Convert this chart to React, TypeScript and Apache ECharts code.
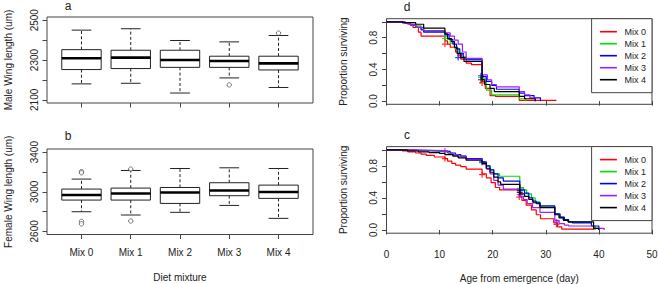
import React, { useEffect, useRef } from "react";
import * as echarts from "echarts";

const FONT = "'Liberation Sans', Arial, Helvetica, sans-serif";
const TXT = "#222";
const FRAME = "#444";

const categories = ["Mix 0", "Mix 1", "Mix 2", "Mix 3", "Mix 4"];

// Box statistics: [lower whisker, Q1, median, Q3, upper whisker]
const maleBox = [
  [2180, 2252, 2309, 2352, 2450],
  [2183, 2257, 2312, 2349, 2457],
  [2134, 2263, 2300, 2349, 2398],
  [2210, 2263, 2295, 2319, 2391],
  [2162, 2250, 2283, 2319, 2423],
];
// [mixture number (1-based), value]
const maleOutliers = [
  [4, 2175],
  [5, 2435],
];
const femaleBox = [
  [2798, 2916, 2967, 3027, 3128],
  [2765, 2916, 2983, 3037, 3215],
  [2792, 2882, 2993, 3043, 3235],
  [2862, 2960, 3013, 3091, 3242],
  [2731, 2933, 2997, 3067, 3235],
];
const femaleOutliers = [
  [1, 3203],
  [1, 3192],
  [1, 2700],
  [1, 2676],
  [2, 3229],
  [2, 2705],
];

const maleTicks = [2100, 2200, 2300, 2400, 2500];
const maleTickLabels = [2100, 2300, 2500];
const femaleTicks = [2600, 2800, 3000, 3200, 3400];
const femaleTickLabels = [2600, 3000, 3400];
const survTicks = [0, 0.2, 0.4, 0.6, 0.8, 1];
const survTickLabels = [0, 0.4, 0.8];
const mixTicks = [1, 2, 3, 4, 5];

const mixColors = ["#FF0000", "#00E000", "#0000FF", "#A020F0", "#000000"];

// Panel d: survival step points [day, proportion surviving]
const survD0 = [[0, 1], [3, 0.99], [4, 0.97], [5, 0.93], [6, 0.87], [6.5, 0.82], [11, 0.76], [11.5, 0.72], [12, 0.68], [13, 0.62], [13.5, 0.57], [14, 0.53], [15, 0.48], [16, 0.46], [18, 0.25], [18.6, 0.16], [19.5, 0.07], [20.5, 0.06], [25, 0.01], [32, 0.01]];
const survD1 = [[0, 1], [3, 0.99], [4.5, 0.97], [5.5, 0.95], [6.5, 0.92], [7, 0.88], [11, 0.82], [11.5, 0.78], [12, 0.73], [12.8, 0.67], [13.5, 0.61], [14.2, 0.56], [15, 0.53], [18, 0.28], [18.8, 0.14], [19.8, 0.08], [25, 0.03], [26.2, 0]];
const survD2 = [[0, 1], [3.5, 0.98], [4.5, 0.96], [5.5, 0.93], [6.5, 0.9], [7, 0.87], [11, 0.84], [11.8, 0.78], [12.5, 0.72], [13.2, 0.66], [13.8, 0.6], [14.5, 0.55], [15, 0.52], [18, 0.31], [18.8, 0.25], [19.8, 0.2], [20.7, 0.15], [25, 0.1], [26, 0.07], [27.8, 0.04], [29, 0]];
const survD3 = [[0, 1], [3.5, 0.98], [4.5, 0.96], [5.5, 0.93], [7, 0.89], [11, 0.86], [12, 0.82], [12.8, 0.77], [13.5, 0.72], [14.3, 0.62], [15, 0.54], [18, 0.33], [19, 0.27], [19.8, 0.21], [20.7, 0.18], [25, 0.12], [26, 0.08], [27, 0.04], [28, 0]];
const survD4 = [[0, 1], [3, 0.99], [5.5, 0.97], [7, 0.92], [11, 0.85], [11.5, 0.79], [12.2, 0.75], [12.8, 0.68], [13.3, 0.6], [14, 0.55], [14.6, 0.5], [18, 0.27], [18.5, 0.21], [19.5, 0.16], [20.3, 0.12], [25, 0.06], [26, 0.03], [28, 0]];
const censorD0 = [[11, 0.72], [18, 0.23]];
const censorD1 = [[11, 0.79], [17.8, 0.3]];
const censorD2 = [[13.5, 0.55], [17.8, 0.32]];
const censorD3 = [[14, 0.58]];
const censorD4 = [[17.8, 0.27]];

// Panel c: survival step points [day, proportion surviving]
const survC0 = [[0, 1], [1.5, 0.995], [3, 0.985], [4, 0.975], [5.5, 0.96], [6.5, 0.945], [7.5, 0.93], [9, 0.91], [11, 0.89], [11.5, 0.86], [12.3, 0.83], [13, 0.81], [14, 0.79], [15, 0.76], [18, 0.7], [18.8, 0.65], [19.7, 0.59], [20.5, 0.53], [21.3, 0.5], [25, 0.42], [25.5, 0.37], [26.3, 0.31], [27.3, 0.25], [28.2, 0.19], [29, 0.14], [31.5, 0.09], [32.2, 0.04], [33, 0.01], [39, 0]];
const survC1 = [[0, 1], [2, 0.995], [4, 0.99], [6, 0.985], [8, 0.98], [11, 0.97], [11.7, 0.95], [12.5, 0.93], [13.5, 0.91], [15, 0.89], [18, 0.84], [18.8, 0.8], [19.5, 0.75], [20.2, 0.7], [21.3, 0.67], [25.1, 0.53], [25.8, 0.5], [26.4, 0.45], [27.3, 0.4], [28, 0.35], [28.9, 0.29], [31.7, 0.2], [32.5, 0.16], [33.3, 0.13], [34.2, 0.1], [38.6, 0.05], [39.3, 0]];
const survC2 = [[0, 1], [3, 0.995], [6, 0.99], [9, 0.985], [11, 0.98], [12, 0.96], [13, 0.94], [14, 0.92], [15, 0.89], [18, 0.85], [18.8, 0.8], [19.5, 0.75], [20.2, 0.7], [21, 0.65], [22, 0.61], [25.1, 0.5], [26, 0.46], [26.8, 0.4], [27.5, 0.36], [28.2, 0.33], [28.9, 0.3], [31.7, 0.2], [32.7, 0.16], [33.5, 0.13], [34.3, 0.1], [35, 0.09], [38.6, 0.05], [40, 0]];
const survC3 = [[0, 1], [3, 0.995], [6, 0.99], [11, 0.985], [11.5, 0.96], [12.5, 0.94], [13.5, 0.92], [15, 0.88], [18, 0.82], [18.8, 0.76], [19.5, 0.7], [20.2, 0.62], [21, 0.56], [22, 0.51], [25.1, 0.42], [25.8, 0.38], [26.5, 0.33], [27.5, 0.28], [28.9, 0.22], [31.7, 0.12], [32.5, 0.08], [33.5, 0.06], [34.3, 0.05], [39, 0.02], [41, 0]];
const survC4 = [[0, 1], [2, 0.995], [4, 0.985], [6, 0.975], [8, 0.965], [10, 0.955], [11, 0.94], [12.5, 0.92], [13.5, 0.9], [15, 0.87], [18, 0.83], [18.8, 0.77], [19.5, 0.72], [20.2, 0.66], [21, 0.6], [21.5, 0.57], [25.1, 0.45], [26, 0.42], [26.8, 0.38], [27.6, 0.34], [28.9, 0.28], [31.7, 0.19], [32.5, 0.15], [33.3, 0.12], [34.2, 0.1], [39, 0.02], [40, 0]];
const censorC0 = [[11, 0.89], [18, 0.69], [25, 0.41], [32, 0.07]];
const censorC1 = [[18, 0.84], [25.1, 0.52]];
const censorC2 = [[18, 0.85], [25.1, 0.49]];
const censorC3 = [[11, 0.985], [25.1, 0.44], [32, 0.1]];
const censorC4 = [[25.1, 0.47]];

const survD = [survD0, survD1, survD2, survD3, survD4];
const survC = [survC0, survC1, survC2, survC3, survC4];
const censorD = [censorD0, censorD1, censorD2, censorD3, censorD4];
const censorC = [censorC0, censorC1, censorC2, censorC3, censorC4];

const PLUS = "path://M4,0H6V10H4Z M0,4H10V6H0Z";

function boxRender(params: any, api: any) {
  const x = api.value(0);
  const lo = api.coord([x, api.value(1)]);
  const q1 = api.coord([x, api.value(2)]);
  const md = api.coord([x, api.value(3)]);
  const q3 = api.coord([x, api.value(4)]);
  const hi = api.coord([x, api.value(5)]);
  const w = api.size([0.8, 0])[0];
  const half = w / 2;
  const cap = w / 4;
  const cx = md[0];
  const solid = { stroke: "#222", lineWidth: 1, fill: "none" };
  const dash = { stroke: "#222", lineWidth: 1, lineDash: [3, 2.2], fill: "none" };
  return {
    type: "group",
    children: [
      { type: "line", shape: { x1: cx, y1: q3[1], x2: cx, y2: hi[1] }, style: dash },
      { type: "line", shape: { x1: cx, y1: q1[1], x2: cx, y2: lo[1] }, style: dash },
      { type: "line", shape: { x1: cx - cap, y1: hi[1], x2: cx + cap, y2: hi[1] }, style: solid },
      { type: "line", shape: { x1: cx - cap, y1: lo[1], x2: cx + cap, y2: lo[1] }, style: solid },
      { type: "rect", shape: { x: cx - half, y: q3[1], width: w, height: q1[1] - q3[1] }, style: { fill: "#fff", stroke: "#222", lineWidth: 1 } },
      { type: "line", shape: { x1: cx - half, y1: md[1], x2: cx + half, y2: md[1] }, style: { stroke: "#000", lineWidth: 2.6 } },
    ],
  };
}

const labelBase = { color: TXT, fontFamily: FONT, fontSize: 10 };
const tickBase = { show: true, inside: false, length: 4.5, lineStyle: { color: FRAME, width: 1 } };

function yAxisDef(grid: number, min: number, max: number, ticks: number[], labels: number[], name: string, gap: number, fmt: (v: number) => string) {
  return {
    type: "value",
    gridIndex: grid,
    min,
    max,
    axisLine: { show: false },
    splitLine: { show: false },
    axisTick: { ...tickBase, customValues: ticks },
    axisLabel: { ...labelBase, rotate: 90, margin: 8, customValues: labels, formatter: fmt, showMinLabel: true, showMaxLabel: true },
    name,
    nameLocation: "middle",
    nameGap: gap,
    nameTextStyle: { ...labelBase },
  };
}

function legendDef(top: number) {
  return {
    orient: "vertical",
    right: 6,
    top,
    data: categories,
    icon: "rect",
    itemWidth: 17,
    itemHeight: 1.6,
    itemGap: 2,
    padding: [8, 6, 8, 8.3],
    borderColor: FRAME,
    borderWidth: 1,
    borderRadius: 0,
    backgroundColor: "#fff",
    selectedMode: false,
    textStyle: { color: TXT, fontFamily: FONT, fontSize: 9, lineHeight: 10, padding: [0, 0, 0, 2.6] },
  };
}

const outlierStyle = { color: "#fff", borderColor: "#333", borderWidth: 0.8 };

function App() {
  const ref = useRef<HTMLDivElement>(null);
  useEffect(() => {
    if (!ref.current) return;
    const chart = echarts.init(ref.current, null, { renderer: "svg" });
    const gridBase = { show: true, borderColor: FRAME, borderWidth: 1, backgroundColor: "transparent", outerBoundsMode: "none", containLabel: false };
    const series: any[] = [];
    series.push({
      type: "custom",
      xAxisIndex: 0,
      yAxisIndex: 0,
      renderItem: boxRender,
      encode: { x: 0, y: [1, 2, 3, 4, 5] },
      data: maleBox.map((b, i) => [i + 1, ...b]),
      clip: false,
    });
    series.push({
      type: "scatter",
      xAxisIndex: 0,
      yAxisIndex: 0,
      symbol: "circle",
      symbolSize: 4.4,
      itemStyle: outlierStyle,
      data: maleOutliers,
      z: 5,
    });
    series.push({
      type: "custom",
      xAxisIndex: 1,
      yAxisIndex: 1,
      renderItem: boxRender,
      encode: { x: 0, y: [1, 2, 3, 4, 5] },
      data: femaleBox.map((b, i) => [i + 1, ...b]),
      clip: false,
    });
    series.push({
      type: "scatter",
      xAxisIndex: 1,
      yAxisIndex: 1,
      symbol: "circle",
      symbolSize: 4.4,
      itemStyle: outlierStyle,
      data: femaleOutliers,
      z: 5,
    });
    const addSurv = (curves: number[][][], censors: number[][][], axis: number) => {
      curves.forEach((c, i) => {
        series.push({
          type: "line",
          name: categories[i],
          xAxisIndex: axis,
          yAxisIndex: axis,
          step: "end",
          symbol: "none",
          color: mixColors[i],
          lineStyle: { color: mixColors[i], width: 1.2 },
          data: c,
          z: 2 + i,
        });
      });
      censors.forEach((c, i) => {
        series.push({
          type: "scatter",
          name: categories[i] + " censored",
          xAxisIndex: axis,
          yAxisIndex: axis,
          symbol: PLUS,
          symbolSize: 6,
          itemStyle: { color: mixColors[i] },
          data: c,
          z: 2 + i,
        });
      });
    };
    addSurv(survD, censorD, 2);
    addSurv(survC, censorC, 3);

    const letter = (t: string, x: number, y: number) => ({
      type: "text",
      x,
      y,
      style: { text: t, fill: TXT, font: `12px ${FONT}`, align: "center", verticalAlign: "middle" },
    });

    chart.setOption({
      animation: false,
      backgroundColor: "#fff",
      textStyle: { fontFamily: FONT },
      grid: [
        { ...gridBase, left: 47, top: 17, width: 266, height: 86 },
        { ...gridBase, left: 47, top: 149, width: 266, height: 85.5 },
        { ...gridBase, left: 386.5, top: 18.7, width: 265.5, height: 85.6 },
        { ...gridBase, left: 386.5, top: 146.6, width: 265.5, height: 86.6 },
      ],
      xAxis: [
        {
          type: "value", gridIndex: 0, min: 0.3, max: 5.7,
          axisLine: { show: false }, splitLine: { show: false },
          axisTick: { ...tickBase, customValues: mixTicks },
          axisLabel: { show: false },
        },
        {
          type: "value", gridIndex: 1, min: 0.3, max: 5.7,
          axisLine: { show: false }, splitLine: { show: false },
          axisTick: { ...tickBase, customValues: mixTicks },
          axisLabel: { ...labelBase, margin: 13, customValues: mixTicks, formatter: (v: number) => categories[Math.round(v) - 1] },
          name: "Diet mixture", nameLocation: "middle", nameGap: 38, nameTextStyle: { ...labelBase },
        },
        {
          type: "value", gridIndex: 2, min: 0, max: 50, interval: 10,
          axisLine: { show: false }, splitLine: { show: false },
          axisTick: { ...tickBase },
          axisLabel: { show: false },
        },
        {
          type: "value", gridIndex: 3, min: 0, max: 50, interval: 10,
          axisLine: { show: false }, splitLine: { show: false },
          axisTick: { ...tickBase },
          axisLabel: { ...labelBase, margin: 16, showMinLabel: true, showMaxLabel: true },
          name: "Age from emergence (day)", nameLocation: "middle", nameGap: 40, nameTextStyle: { ...labelBase },
        },
      ],
      yAxis: [
        yAxisDef(0, 2084, 2516, maleTicks, maleTickLabels, "Male Wing length (um)", 34, (v) => String(v)),
        yAxisDef(1, 2568, 3432, femaleTicks, femaleTickLabels, "Female Wing length (um)", 34, (v) => String(v)),
        yAxisDef(2, -0.04, 1.04, survTicks, survTickLabels, "Proportion surviving", 38, (v) => v.toFixed(1)),
        yAxisDef(3, -0.04, 1.04, survTicks, survTickLabels, "Proportion surviving", 38, (v) => v.toFixed(1)),
      ],
      legend: [legendDef(18.7), legendDef(146.6)],
      graphic: [letter("a", 68, 6), letter("b", 68, 136), letter("d", 407, 7), letter("c", 407, 134.5)],
      series,
    });
    return () => chart.dispose();
  }, []);
  return <div ref={ref} style={{ position: "fixed", left: 0, top: 0, width: 658, height: 284, background: "#fff" }} />;
}

export default App;
